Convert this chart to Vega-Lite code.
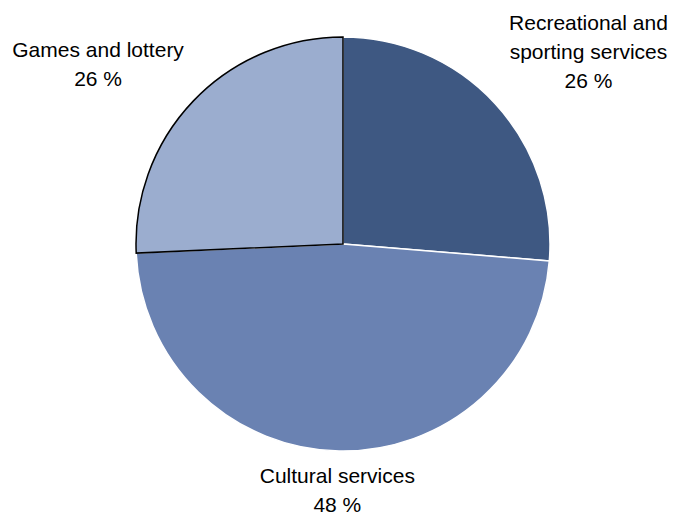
{
  "$schema": "https://vega.github.io/schema/vega-lite/v6.json",
  "width": 660,
  "height": 488,
  "autosize": "none",
  "padding": {"left": 13, "right": 0, "top": 0, "bottom": 31},
  "background": "white",
  "view": {"stroke": null},
  "data": {
    "values": [
      {"rank": 1, "category": "Recreational and sporting services", "share": 26.3, "label": "Recreational and\nsporting services\n26 %"},
      {"rank": 2, "category": "Cultural services", "share": 48.0, "label": "Cultural services\n48 %"},
      {"rank": 3, "category": "Games and lottery", "share": 25.7, "label": "Games and lottery\n26 %"}
    ]
  },
  "encoding": {
    "theta": {"field": "share", "type": "quantitative", "stack": true},
    "order": {"field": "rank", "type": "quantitative"}
  },
  "layer": [
    {
      "mark": {"type": "arc", "outerRadius": 207, "strokeWidth": 1.5},
      "encoding": {
        "color": {
          "field": "category",
          "type": "nominal",
          "scale": {
            "domain": ["Recreational and sporting services", "Cultural services", "Games and lottery"],
            "range": ["#3E5882", "#6A82B2", "#9BADCF"]
          },
          "legend": null
        },
        "stroke": {
          "condition": {"test": "datum.rank === 3", "value": "#000000"},
          "value": "#ffffff"
        }
      }
    },
    {
      "mark": {"type": "text", "radius": 312, "dx": 16, "dy": -9, "align": "center", "baseline": "middle", "lineBreak": "\n", "lineHeight": 29, "font": "Liberation Sans", "fontSize": 21, "color": "#000000"},
      "encoding": {
        "text": {"condition": {"test": "datum.rank === 1", "field": "label"}, "value": ""}
      }
    },
    {
      "mark": {"type": "text", "radius": 247, "dx": -1, "dy": -14, "align": "center", "baseline": "middle", "lineBreak": "\n", "lineHeight": 29, "font": "Liberation Sans", "fontSize": 21, "color": "#000000"},
      "encoding": {
        "text": {"condition": {"test": "datum.rank === 2", "field": "label"}, "value": ""}
      }
    },
    {
      "mark": {"type": "text", "radius": 303, "dx": -26, "dy": 16, "align": "center", "baseline": "middle", "lineBreak": "\n", "lineHeight": 29, "font": "Liberation Sans", "fontSize": 21, "color": "#000000"},
      "encoding": {
        "text": {"condition": {"test": "datum.rank === 3", "field": "label"}, "value": ""}
      }
    }
  ]
}
